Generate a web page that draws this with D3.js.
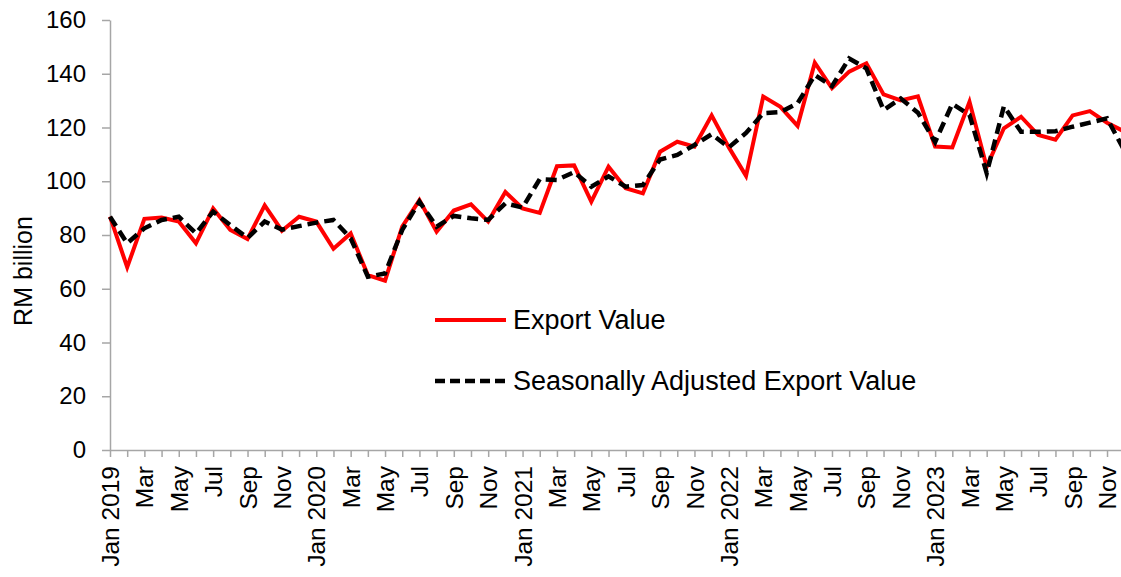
<!DOCTYPE html>
<html>
<head>
<meta charset="utf-8">
<script src="https://cdn.jsdelivr.net/npm/d3@7/dist/d3.min.js"></script>
<style>
  html, body { margin: 0; padding: 0; background: #fff; }
  svg { display: block; font-family: "Liberation Sans", Arial, sans-serif; }
</style>
</head>
<body>
<svg id="chart" width="1121" height="577"></svg>
<script>
// ---- data ----
const years = [2019, 2020, 2021, 2022, 2023];
const monthNames = ["Jan","Feb","Mar","Apr","May","Jun","Jul","Aug","Sep","Oct","Nov","Dec"];
const months = [];
years.forEach(yr => monthNames.forEach(m => months.push(m + " " + yr)));

const exportValue = [
  86.8, 68.0, 86.0, 86.5, 85.0, 76.9, 89.9, 81.9, 78.5, 91.0, 81.6, 86.8,
  85.0, 74.9, 80.6, 65.1, 63.0, 83.1, 93.0, 81.2, 89.1, 91.4, 85.0, 96.0,
  89.9, 88.2, 105.6, 105.9, 92.4, 105.4, 97.4, 95.5, 111.0, 114.7, 112.9, 124.5,
  112.6, 102.0, 131.5, 127.7, 120.6, 144.1, 134.6, 140.8, 143.9, 132.3, 130.1, 131.6,
  112.9, 112.6, 129.6, 105.4, 119.7, 124.0, 117.2, 115.5, 124.5, 126.1, 121.8, 118.5
];
const seasonallyAdjusted = [
  86.8, 76.9, 82.5, 85.6, 86.8, 80.6, 88.7, 83.7, 78.9, 85.0, 82.0, 83.3,
  84.6, 85.6, 78.8, 64.5, 65.7, 81.9, 92.4, 83.1, 87.1, 86.2, 85.6, 91.8,
  90.2, 100.8, 100.5, 103.4, 98.0, 101.8, 98.0, 98.6, 108.1, 109.8, 113.5, 117.5,
  112.6, 118.0, 125.3, 125.7, 129.0, 139.5, 135.4, 145.7, 142.0, 126.5, 130.8, 125.5,
  114.6, 128.8, 124.7, 103.0, 127.9, 118.4, 118.4, 118.6, 120.3, 121.8, 123.4, 111.5
];
const yTicks = [0, 20, 40, 60, 80, 100, 120, 140, 160];
const seriesNames = ["Export Value", "Seasonally Adjusted Export Value"];
const yTitle = "RM billion";

// ---- layout ----
const svg = d3.select("#chart");
const plotLeft = 110, plotTop = 20, plotBottom = 450;
const step = 17.19;

const x = d3.scalePoint().domain(months).range([plotLeft, plotLeft + step * (months.length - 1)]);
const y = d3.scaleLinear().domain([0, 160]).range([plotBottom, plotTop]);

const axisColor = "#a6a6a6";

// y axis
const yAxis = svg.append("g")
  .attr("transform", `translate(${plotLeft},0)`)
  .call(d3.axisLeft(y).tickValues(yTicks).tickSize(8).tickSizeOuter(0).tickPadding(16));
yAxis.select(".domain").attr("stroke", axisColor).attr("stroke-width", 1.5);
yAxis.selectAll(".tick line").attr("stroke", axisColor).attr("stroke-width", 1.5);
yAxis.selectAll(".tick text").attr("fill", "#000").style("font-size", "24px");

// x axis
const xAxis = svg.append("g")
  .attr("transform", `translate(0,${plotBottom})`)
  .call(d3.axisBottom(x).tickSize(7).tickSizeOuter(0)
    .tickFormat((d, i) => {
      if (i % 2 !== 0) return "";
      const m = d.split(" ")[0];
      return m === "Jan" ? d : m;
    }));
xAxis.select(".domain").attr("stroke", axisColor).attr("stroke-width", 1.5);
xAxis.selectAll(".tick line").attr("stroke", axisColor).attr("stroke-width", 1.5);
xAxis.selectAll(".tick text")
  .attr("fill", "#000")
  .style("font-size", "24.5px")
  .attr("transform", "rotate(-90)")
  .attr("x", -16)
  .attr("y", 0)
  .attr("dy", "0.35em")
  .style("text-anchor", "end");

// y title
svg.append("text")
  .attr("transform", "translate(32,271) rotate(-90)")
  .attr("text-anchor", "middle")
  .style("font-size", "25px")
  .attr("fill", "#000")
  .text(yTitle);

// lines
const line = d3.line().x((d, i) => x(months[i])).y(d => y(d));

svg.append("path")
  .datum(exportValue)
  .attr("fill", "none")
  .attr("stroke", "#ff0000")
  .attr("stroke-width", 4)
  .attr("d", line);

svg.append("path")
  .datum(seasonallyAdjusted)
  .attr("fill", "none")
  .attr("stroke", "#000")
  .attr("stroke-width", 4.5)
  .attr("stroke-dasharray", "11,6")
  .attr("d", line);

// legend
const legend = svg.append("g");
const legendItems = [
  { name: seriesNames[0], color: "#ff0000", dash: null, width: 4, ly: 320 },
  { name: seriesNames[1], color: "#000", dash: "10,5", width: 4.5, ly: 381 }
];
legendItems.forEach(it => {
  legend.append("line")
    .attr("x1", 435).attr("x2", 506)
    .attr("y1", it.ly).attr("y2", it.ly)
    .attr("stroke", it.color)
    .attr("stroke-width", it.width)
    .attr("stroke-dasharray", it.dash);
  legend.append("text")
    .attr("x", 513).attr("y", it.ly)
    .attr("dy", "0.35em")
    .style("font-size", "27px")
    .attr("fill", "#000")
    .text(it.name);
});
</script>
</body>
</html>
